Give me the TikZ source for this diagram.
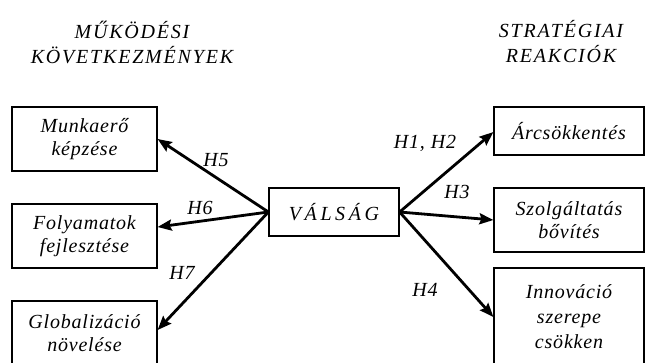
\documentclass[tikz,border=0pt]{standalone}
\usepackage{fontspec}
\setmainfont{Liberation Serif}
\newfontfamily\diafont{Liberation Serif}[LetterSpace=4]
\newfontfamily\titlefont{Liberation Serif}[LetterSpace=9]
\newfontfamily\widefont{Liberation Serif}[LetterSpace=18]
\usetikzlibrary{arrows.meta}
\begin{document}
\begin{tikzpicture}[x=1pt,y=-1pt,
  every node/.style={font=\diafont\itshape\fontsize{20}{23}\selectfont, inner sep=0pt, align=center},
  title/.style={font=\titlefont\itshape\fontsize{20}{25}\selectfont},
  box/.style={draw, line width=1.2pt, minimum width=145pt, minimum height=64pt},
  rbox/.style={draw, line width=1.2pt, minimum width=150pt},
  arr/.style={line width=2.8pt, -{Stealth[length=14pt,width=11pt,inset=2pt]}},
  lab/.style={}]
\useasboundingbox (0,0) rectangle (645,362);
\clip (0,0) rectangle (645,362);
% titles
\node[title] (t1) at (132,42) {MŰKÖDÉSI\\KÖVETKEZMÉNYEK};
\node[title] (t2) at (561,42) {STRATÉGIAI\\REAKCIÓK};
% left boxes
\node[box] (m1) at (84.5,139) {Munkaerő\\képzése};
\node[box] (m2) at (84.5,236) {Folyamatok\\fejlesztése};
\node[box] (m3) at (84.5,333) {Globalizáció\\növelése};
% center
\node[draw, line width=1.2pt, minimum width=130pt, minimum height=48pt, font=\widefont\itshape\fontsize{20}{25}\selectfont] (c) at (334,212) {VÁLSÁG};
% right boxes
\node[rbox, minimum height=48pt] (r1) at (569,131) {Árcsökkentés};
\node[rbox, minimum height=64pt] (r2) at (569,220) {Szolgáltatás\\bővítés};
\node[rbox, minimum height=98pt, font=\diafont\itshape\fontsize{20}{25}\selectfont] (r3) at (569,317) {Innováció\\szerepe\\csökken};
% arrows
\draw[arr] (c.west) -- (m1.east);
\draw[arr] (c.west) -- ([yshift=9pt]m2.east);
\draw[arr] (c.west) -- ([yshift=3pt]m3.east);
\draw[arr] (c.east) -- ([yshift=-1pt]r1.west);
\draw[arr] (c.east) -- (r2.west);
\draw[arr] (c.east) -- (r3.west);
% labels
\node[lab] (h5) at (216,160) {H5};
\node[lab] (h6) at (200,208) {H6};
\node[lab] (h7) at (182,273) {H7};
\node[lab] (h12) at (425,143) {H1, H2};
\node[lab] (h3) at (457,192) {H3};
\node[lab] (h4) at (425,290) {H4};
\end{tikzpicture}
\end{document}
